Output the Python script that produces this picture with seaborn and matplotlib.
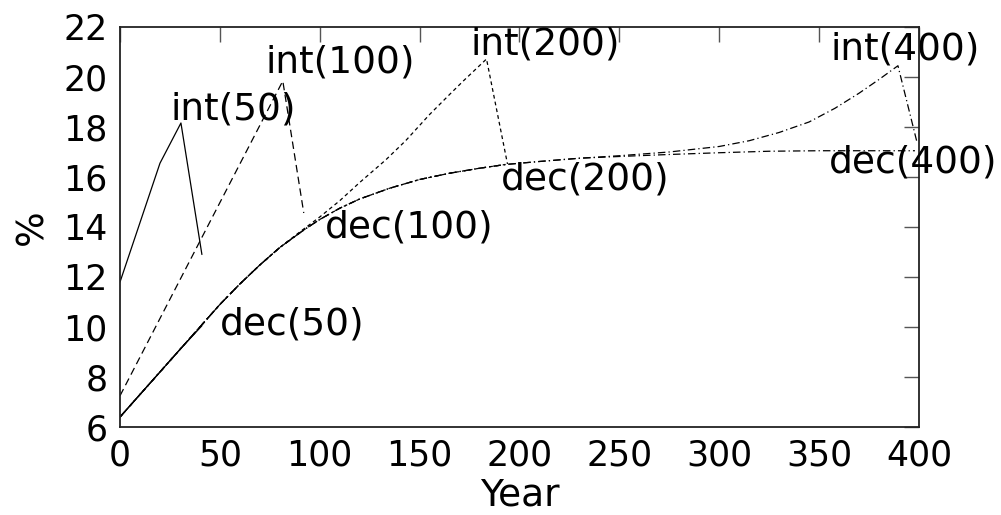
import numpy as np
import pandas as pd
import matplotlib
matplotlib.use("Agg")
import matplotlib.pyplot as plt
import seaborn as sns

# ---- data: percentage over years for each scenario ----
int50_year = [0, 20, 30.5, 41]
int50_pct = [11.8, 16.55, 18.16, 12.9]

dec50_year = [0, 10, 20, 30, 41]
dec50_pct = [6.4, 7.3, 8.2, 9.1, 10.05]

int100_year = [0, 20, 40, 60, 81.5, 92]
int100_pct = [7.25, 10.34, 13.43, 16.52, 19.84, 14.56]

dec100_year = [0, 10, 20, 30, 40, 50, 60, 70, 80, 92]
dec100_pct = [6.4, 7.3, 8.2, 9.1, 10.0, 10.9, 11.72, 12.48, 13.18, 13.88]

int200_year = [0, 10, 20, 30, 40, 50, 60, 70, 80, 90, 100, 110, 120, 133,
               143, 155, 165, 172, 183.5, 194]
int200_pct = [6.4, 7.3, 8.2, 9.1, 10.0, 10.9, 11.72, 12.48, 13.18, 13.8,
              14.4, 15.05, 15.78, 16.68, 17.45, 18.5, 19.3, 19.85, 20.72, 16.52]

dec200_year = [0, 10, 20, 30, 40, 50, 60, 70, 80, 92, 100, 110, 120, 135,
               150, 165, 180, 193]
dec200_pct = [6.4, 7.3, 8.2, 9.1, 10.0, 10.9, 11.72, 12.48, 13.18, 13.88,
              14.3, 14.75, 15.12, 15.55, 15.9, 16.15, 16.35, 16.5]

int400_year = [0, 10, 20, 30, 40, 50, 60, 70, 80, 92, 100, 110, 120, 135,
               150, 165, 180, 193, 210, 230, 250, 275, 300, 315, 330, 345,
               358, 370, 380, 389.5, 399]
int400_pct = [6.4, 7.3, 8.2, 9.1, 10.0, 10.9, 11.72, 12.48, 13.18, 13.88,
              14.3, 14.75, 15.12, 15.55, 15.9, 16.15, 16.35, 16.5, 16.62,
              16.75, 16.85, 17.0, 17.22, 17.45, 17.78, 18.2, 18.75, 19.35,
              19.9, 20.45, 17.4]

dec400_year = [0, 10, 20, 30, 40, 50, 60, 70, 80, 92, 100, 110, 120, 135,
               150, 165, 180, 193, 210, 230, 250, 275, 300, 325, 350, 375, 398]
dec400_pct = [6.4, 7.3, 8.2, 9.1, 10.0, 10.9, 11.72, 12.48, 13.18, 13.88,
              14.3, 14.75, 15.12, 15.55, 15.9, 16.15, 16.35, 16.5, 16.62,
              16.75, 16.82, 16.9, 16.97, 17.03, 17.05, 17.05, 17.05]

series_names = ["int(50)", "dec(50)", "int(100)", "dec(100)",
                "int(200)", "dec(200)", "int(400)", "dec(400)"]
series_data = [(int50_year, int50_pct), (dec50_year, dec50_pct),
               (int100_year, int100_pct), (dec100_year, dec100_pct),
               (int200_year, int200_pct), (dec200_year, dec200_pct),
               (int400_year, int400_pct), (dec400_year, dec400_pct)]

# label anchor (left edge, vertical centre) for each curve name
label_year = [25.1, 50.1, 72.7, 102.8, 175.4, 190.5, 355.9, 354.9]
label_pct = [18.68, 10.08, 20.56, 13.96, 21.28, 15.88, 21.08, 16.56]

x_ticks = [0, 50, 100, 150, 200, 250, 300, 350, 400]
y_ticks = [6, 8, 10, 12, 14, 16, 18, 20, 22]

frames = []
for name, (yr, pc) in zip(series_names, series_data):
    frames.append(pd.DataFrame({"Year": yr, "pct": pc, "series": name}))
df = pd.concat(frames, ignore_index=True)

# line style per horizon: 50 solid, 100 long dash, 200 short dash, 400 dash-dot
dash_styles = {
    "int(50)": "", "dec(50)": "",
    "int(100)": (6, 3.5), "dec(100)": (6, 3.5),
    "int(200)": (3, 2.5), "dec(200)": (3, 2.5),
    "int(400)": (6, 2.5, 1, 2.5), "dec(400)": (6, 2.5, 1, 2.5),
}

sns.set_style("white")
plt.rcParams["font.family"] = ["DejaVu Sans"]

fig = plt.figure(figsize=(10.01, 5.15), dpi=100)
ax = fig.add_axes([0.1199, 0.1709, 0.918 - 0.1199, 0.9476 - 0.1709])

sns.lineplot(data=df, x="Year", y="pct", style="series", dashes=dash_styles,
             style_order=series_names, color="black", linewidth=0.9,
             estimator=None, sort=False, legend=False, ax=ax)

for name, lx, ly in zip(series_names, label_year, label_pct):
    ax.text(lx, ly, name, fontsize=27, ha="left", va="center", color="black")

ax.set_xlim(0, 400)
ax.set_ylim(6, 22)
ax.set_xticks(x_ticks)
ax.set_yticks(y_ticks)
ax.tick_params(axis="both", which="both", direction="in", length=11,
               width=1.0, color="#555555", labelsize=25, labelcolor="black",
               top=True, right=True)
ax.tick_params(axis="y", pad=9)
ax.tick_params(axis="x", pad=8)
for sp in ax.spines.values():
    sp.set_visible(True)
    sp.set_color("#222222")
    sp.set_linewidth(1.3)

ax.set_xlabel("Year", fontsize=27, labelpad=4, color="black")
ax.set_ylabel("%", fontsize=27, labelpad=9, color="black")
ax.grid(False)

fig.savefig("out.png", dpi=100)
